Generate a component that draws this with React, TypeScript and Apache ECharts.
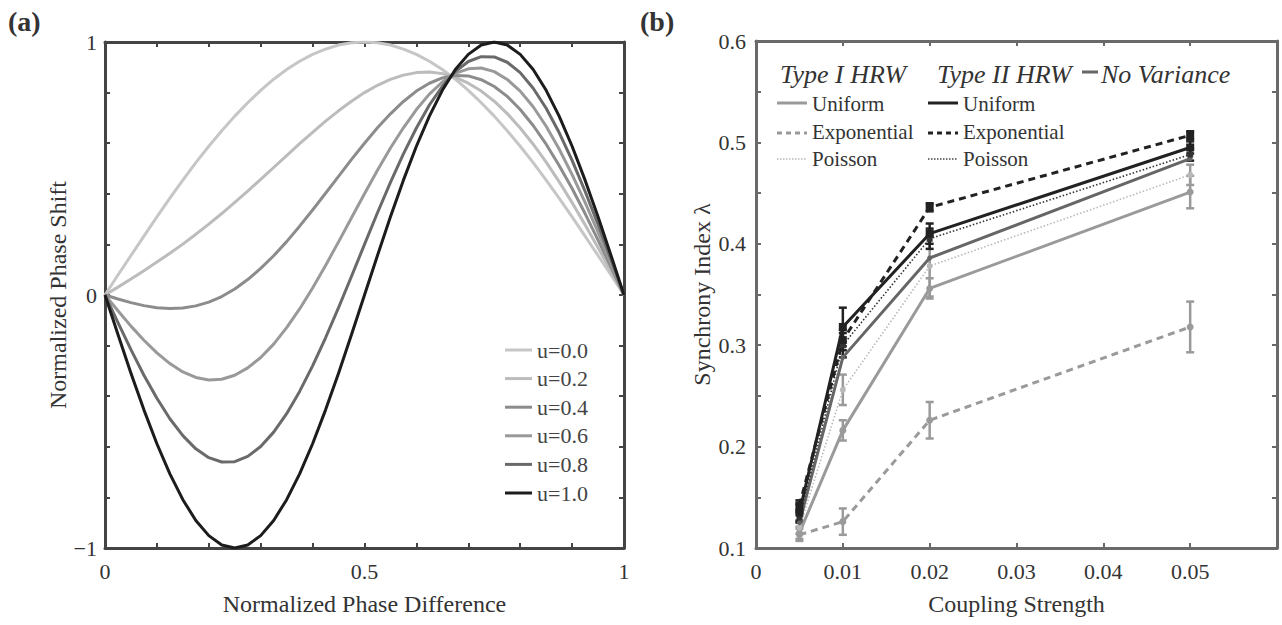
import React, { useEffect, useRef } from 'react';
import * as echarts from 'echarts';

// ---------- Panel (a) data ----------
const phaseX = [0, 0.025, 0.05, 0.075, 0.1, 0.125, 0.15, 0.175, 0.2, 0.225, 0.25, 0.275, 0.3, 0.325, 0.35, 0.375, 0.4, 0.425, 0.45, 0.475, 0.5,
  0.525, 0.55, 0.575, 0.6, 0.625, 0.65, 0.675, 0.7, 0.725, 0.75, 0.775, 0.8, 0.825, 0.85, 0.875, 0.9, 0.925, 0.95, 0.975, 1];
const u00 = [0, 0.079, 0.156, 0.233, 0.309, 0.383, 0.454, 0.523, 0.588, 0.649, 0.707, 0.76, 0.809, 0.853, 0.891, 0.924, 0.951, 0.972, 0.988, 0.997, 1,
  0.997, 0.988, 0.972, 0.951, 0.924, 0.891, 0.853, 0.809, 0.76, 0.707, 0.649, 0.588, 0.523, 0.454, 0.383, 0.309, 0.233, 0.156, 0.079, 0];
const u02 = [0, 0.031, 0.063, 0.096, 0.13, 0.165, 0.201, 0.24, 0.28, 0.322, 0.366, 0.411, 0.457, 0.504, 0.551, 0.598, 0.643, 0.687, 0.728, 0.766, 0.8,
  0.829, 0.852, 0.869, 0.879, 0.881, 0.875, 0.86, 0.837, 0.806, 0.766, 0.717, 0.66, 0.596, 0.525, 0.448, 0.365, 0.278, 0.187, 0.094, 0];
const u04 = [0, -0.016, -0.03, -0.042, -0.05, -0.053, -0.051, -0.043, -0.028, -0.006, 0.024, 0.061, 0.105, 0.155, 0.211, 0.272, 0.336, 0.402, 0.469, 0.536, 0.6,
  0.661, 0.716, 0.765, 0.806, 0.837, 0.858, 0.868, 0.866, 0.851, 0.824, 0.785, 0.733, 0.67, 0.596, 0.512, 0.421, 0.322, 0.217, 0.11, 0];
const u06 = [0, -0.062, -0.123, -0.179, -0.229, -0.271, -0.304, -0.326, -0.336, -0.333, -0.317, -0.288, -0.247, -0.194, -0.129, -0.055, 0.028, 0.117, 0.21, 0.305, 0.4,
  0.493, 0.581, 0.661, 0.733, 0.794, 0.842, 0.876, 0.894, 0.897, 0.883, 0.852, 0.806, 0.744, 0.667, 0.577, 0.476, 0.366, 0.248, 0.125, 0];
const u08 = [0, -0.109, -0.216, -0.317, -0.408, -0.489, -0.556, -0.608, -0.643, -0.66, -0.659, -0.638, -0.599, -0.542, -0.469, -0.381, -0.28, -0.169, -0.05, 0.074, 0.2,
  0.325, 0.445, 0.558, 0.66, 0.751, 0.825, 0.883, 0.923, 0.942, 0.941, 0.92, 0.879, 0.817, 0.738, 0.642, 0.532, 0.41, 0.279, 0.141, 0];
const u10 = [0, -0.156, -0.309, -0.454, -0.588, -0.707, -0.809, -0.891, -0.951, -0.988, -1, -0.988, -0.951, -0.891, -0.809, -0.707, -0.588, -0.454, -0.309, -0.156, 0,
  0.156, 0.309, 0.454, 0.588, 0.707, 0.809, 0.891, 0.951, 0.988, 1, 0.988, 0.951, 0.891, 0.809, 0.707, 0.588, 0.454, 0.309, 0.156, 0];
const uLabels = ['u=0.0', 'u=0.2', 'u=0.4', 'u=0.6', 'u=0.8', 'u=1.0'];
const uSeries = [u00, u02, u04, u06, u08, u10];

// ---------- Panel (b) data ----------
const coupling = [0.005, 0.01, 0.02, 0.05];
const typeIUniform = [0.115, 0.216, 0.356, 0.451];
const typeIUniformErr = [0.006, 0.01, 0.01, 0.016];
const typeIExp = [0.113, 0.126, 0.226, 0.318];
const typeIExpErr = [0.006, 0.013, 0.018, 0.025];
const typeIPoisson = [0.12, 0.256, 0.378, 0.468];
const typeIPoissonErr = [0.006, 0.015, 0.03, 0.01];
const typeIIUniform = [0.135, 0.318, 0.41, 0.495];
const typeIIUniformErr = [0.008, 0.019, 0.01, 0.006];
const typeIIExp = [0.142, 0.305, 0.436, 0.507];
const typeIIExpErr = [0.005, 0.01, 0.004, 0.004];
const typeIIPoisson = [0.13, 0.3, 0.405, 0.488];
const typeIIPoissonErr = [0.005, 0.012, 0.01, 0.006];
const noVariance = [0.125, 0.288, 0.386, 0.484];

// ---------- styles ----------
const FONT = '"Liberation Serif", "Times New Roman", serif';
const uColors = ['#c6c6c6', '#bcbcbc', '#8c8c8c', '#999999', '#6a6a6a', '#1c1c1c'];
const GRAY = '#9a9a9a';
const LGRAY = '#b8b8b8';
const BLACK = '#222222';
const DGRAY = '#666666';

function zip(xs: number[], ys: number[]) {
  return xs.map((x, i) => [x, ys[i]]);
}
function errData(xs: number[], ys: number[], es: number[]) {
  return xs.map((x, i) => [x, ys[i] - es[i], ys[i] + es[i]]);
}

function errorSeries(name: string, xs: number[], ys: number[], es: number[], color: string) {
  return {
    type: 'custom',
    name,
    xAxisIndex: 2,
    yAxisIndex: 2,
    data: errData(xs, ys, es),
    encode: { x: 0, y: [1, 2] },
    z: 3,
    renderItem: (params: any, api: any) => {
      const x = api.value(0);
      const lo = api.coord([x, api.value(1)]);
      const hi = api.coord([x, api.value(2)]);
      const w = 4;
      const style = { stroke: color, lineWidth: 2.5 };
      return {
        type: 'group',
        children: [
          { type: 'line', shape: { x1: lo[0], y1: lo[1], x2: hi[0], y2: hi[1] }, style },
          { type: 'line', shape: { x1: hi[0] - w, y1: hi[1], x2: hi[0] + w, y2: hi[1] }, style },
          { type: 'line', shape: { x1: lo[0] - w, y1: lo[1], x2: lo[0] + w, y2: lo[1] }, style },
        ],
      };
    },
  };
}

function lineB(name: string, ys: number[], color: string, width: number, dash: any, symbol: string, size: number) {
  return {
    type: 'line',
    name,
    xAxisIndex: 2,
    yAxisIndex: 2,
    data: zip(coupling, ys),
    symbol,
    symbolSize: size,
    showSymbol: symbol !== 'none',
    itemStyle: { color },
    lineStyle: { color, width, type: dash },
    z: 4,
  };
}

export default function App() {
  const ref = useRef<HTMLDivElement>(null);
  useEffect(() => {
    if (!ref.current) return;
    const chart = echarts.init(ref.current, undefined, { renderer: 'svg' });
    const axisColorA = '#444';
    const axisColorB = '#6a6a6a';
    const labelStyle = { fontFamily: FONT, fontSize: 22, color: '#333' };

    const seriesA = uSeries.map((ys, i) => ({
      type: 'line',
      name: uLabels[i],
      xAxisIndex: 0,
      yAxisIndex: 0,
      data: zip(phaseX, ys),
      smooth: false,
      symbol: 'none',
      showSymbol: false,
      lineStyle: { color: uColors[i], width: 3, join: 'round' },
      itemStyle: { color: uColors[i] },
      z: 2 + i,
    }));

    const seriesB: any[] = [
      errorSeries('eb1', coupling, typeIExp, typeIExpErr, GRAY),
      errorSeries('eb2', coupling, typeIUniform, typeIUniformErr, GRAY),
      errorSeries('eb3', coupling, typeIPoisson, typeIPoissonErr, GRAY),
      errorSeries('eb4', coupling, typeIIPoisson, typeIIPoissonErr, BLACK),
      errorSeries('eb5', coupling, typeIIUniform, typeIIUniformErr, BLACK),
      errorSeries('eb6', coupling, typeIIExp, typeIIExpErr, BLACK),
      lineB('Type I Exponential', typeIExp, GRAY, 3, [7, 5], 'circle', 7),
      lineB('Type I Uniform', typeIUniform, GRAY, 3, 'solid', 'circle', 7),
      lineB('Type I Poisson', typeIPoisson, LGRAY, 1.6, [1.5, 2], 'circle', 6),
      lineB('No Variance', noVariance, DGRAY, 3, 'solid', 'circle', 5),
      lineB('Type II Poisson', typeIIPoisson, '#333', 1.6, [1.5, 2], 'rect', 6),
      lineB('Type II Uniform', typeIIUniform, BLACK, 3, 'solid', 'rect', 8),
      lineB('Type II Exponential', typeIIExp, BLACK, 3, [7, 5], 'rect', 8),
    ];

    const legTextStyle = { fontFamily: FONT, fontSize: 21, fill: '#333' };
    const legItalic = { fontFamily: FONT, fontSize: 26, fontStyle: 'italic', fill: '#333' };
    const legLine = (x1: number, y: number, stroke: string, dash: any, w: number) => ({
      type: 'line',
      shape: { x1, y1: y, x2: x1 + 30, y2: y },
      style: { stroke, lineWidth: w, lineDash: dash },
    });
    const legText = (x: number, y: number, text: string, style: any) => ({
      type: 'text',
      x,
      y,
      style: { ...style, text, verticalAlign: 'middle', align: 'left' },
    });

    const axisBase = (color: string) => ({
      axisLine: { show: true, onZero: false, lineStyle: { color, width: 3 } },
      axisTick: { inside: true, length: 5, lineStyle: { color, width: 2 } },
      splitLine: { show: false },
    });

    const option: any = {
      animation: false,
      backgroundColor: '#fff',
      grid: [
        { left: 105, top: 42, width: 519, height: 506 },
        { left: 756, top: 41, width: 521, height: 507 },
      ],
      legend: {
        data: uLabels,
        orient: 'vertical',
        left: 500,
        top: 334,
        icon: 'rect',
        itemWidth: 27,
        itemHeight: 3,
        itemGap: 6.6,
        textStyle: { fontFamily: FONT, fontSize: 22, color: '#444', lineHeight: 22 },
      },
      xAxis: [
        {
          gridIndex: 0, type: 'value', min: 0, max: 1, interval: 0.1, position: 'bottom',
          name: 'Normalized Phase Difference', nameLocation: 'middle', nameGap: 44,
          nameTextStyle: { fontFamily: FONT, fontSize: 24, color: '#333' },
          ...axisBase(axisColorA),
          axisLabel: {
            ...labelStyle, margin: 12,
            formatter: (v: number) => (Math.abs(v) < 1e-9 ? '0' : Math.abs(v - 0.5) < 1e-9 ? '0.5' : Math.abs(v - 1) < 1e-9 ? '1' : ''),
          },
        },
        {
          gridIndex: 0, type: 'value', min: 0, max: 1, interval: 0.1, position: 'top',
          ...axisBase(axisColorA),
          axisLabel: { show: false },
        },
        {
          gridIndex: 1, type: 'value', min: 0, max: 0.06, interval: 0.01, position: 'bottom',
          name: 'Coupling Strength', nameLocation: 'middle', nameGap: 44,
          nameTextStyle: { fontFamily: FONT, fontSize: 24, color: '#333' },
          ...axisBase(axisColorB),
          axisLabel: {
            ...labelStyle, margin: 12,
            formatter: (v: number) => (v > 0.0595 ? '' : Math.abs(v) < 1e-9 ? '0' : String(parseFloat(v.toFixed(2)))),
          },
        },
        {
          gridIndex: 1, type: 'value', min: 0, max: 0.06, interval: 0.01, position: 'top',
          ...axisBase(axisColorB),
          axisLabel: { show: false },
        },
      ],
      yAxis: [
        {
          gridIndex: 0, type: 'value', min: -1, max: 1, interval: 0.2, position: 'left',
          name: 'Normalized Phase Shift', nameLocation: 'middle', nameGap: 18,
          nameTextStyle: { fontFamily: FONT, fontSize: 24, color: '#333' },
          ...axisBase(axisColorA),
          axisLabel: {
            ...labelStyle, margin: 8,
            formatter: (v: number) => (Math.abs(v + 1) < 1e-9 ? '\u22121' : Math.abs(v) < 1e-9 ? '0' : Math.abs(v - 1) < 1e-9 ? '1' : ''),
          },
        },
        {
          gridIndex: 0, type: 'value', min: -1, max: 1, interval: 0.2, position: 'right',
          ...axisBase(axisColorA),
          axisLabel: { show: false },
        },
        {
          gridIndex: 1, type: 'value', min: 0.1, max: 0.6, interval: 0.05, position: 'left',
          name: 'Synchrony Index \u03bb', nameLocation: 'middle', nameGap: 42,
          nameTextStyle: { fontFamily: FONT, fontSize: 24, color: '#333' },
          ...axisBase(axisColorB),
          axisLabel: {
            ...labelStyle, margin: 10,
            formatter: (v: number) => (Math.round(v * 100) % 10 === 0 ? v.toFixed(1) : ''),
          },
        },
        {
          gridIndex: 1, type: 'value', min: 0.1, max: 0.6, interval: 0.05, position: 'right',
          ...axisBase(axisColorB),
          axisLabel: { show: false },
        },
      ],
      graphic: [
        { type: 'text', x: 8, y: 7, style: { text: '(a)', fontFamily: FONT, fontSize: 28, fontWeight: 'bold', fill: '#333' } },
        { type: 'text', x: 640, y: 7, style: { text: '(b)', fontFamily: FONT, fontSize: 28, fontWeight: 'bold', fill: '#333' } },
        legText(780, 74, 'Type I HRW', legItalic),
        legText(937, 74, 'Type II HRW', legItalic),
        { type: 'line', shape: { x1: 1082, y1: 72, x2: 1098, y2: 72 }, style: { stroke: DGRAY, lineWidth: 3 } },
        legText(1101, 74, 'No Variance', legItalic),
        legLine(777, 103, GRAY, null, 3),
        legText(812, 104, 'Uniform', legTextStyle),
        legLine(777, 133, GRAY, [5, 4], 3),
        legText(812, 132, 'Exponential', legTextStyle),
        legLine(777, 159, LGRAY, [1.5, 1.5], 1.5),
        legText(812, 159, 'Poisson', legTextStyle),
        legLine(928, 103, BLACK, null, 3),
        legText(963, 104, 'Uniform', legTextStyle),
        legLine(928, 133, BLACK, [5, 4], 3),
        legText(963, 132, 'Exponential', legTextStyle),
        legLine(928, 159, '#444', [1.5, 1.5], 1.5),
        legText(963, 159, 'Poisson', legTextStyle),
      ],
      series: [...seriesA, ...seriesB],
    };
    chart.setOption(option);
    return () => chart.dispose();
  }, []);
  return <div ref={ref} style={{ position: 'fixed', left: 0, top: 0, width: 1282, height: 625, background: '#fff' }} />;
}
